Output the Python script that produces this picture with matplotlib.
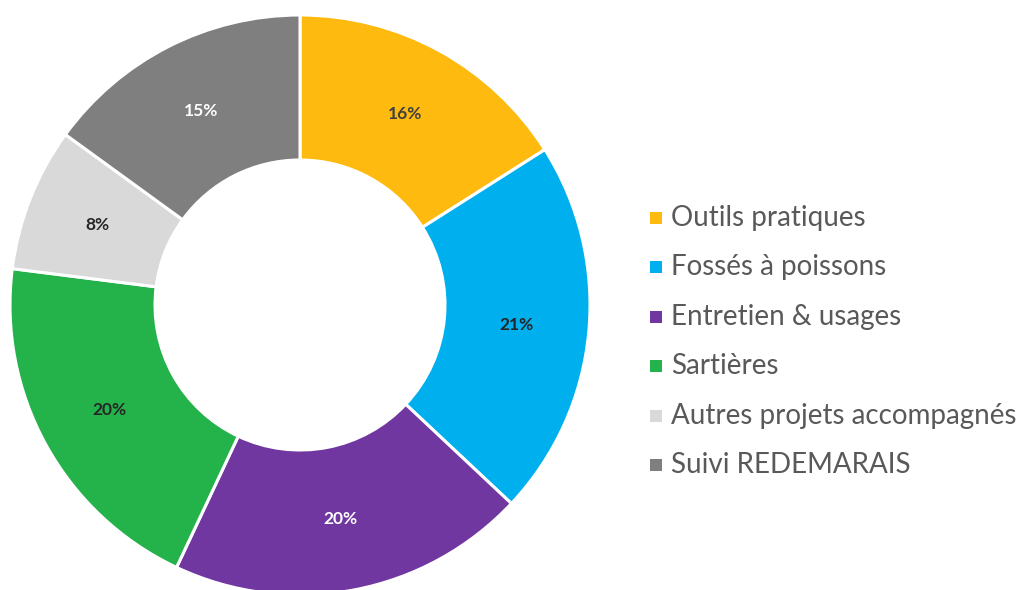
import matplotlib.pyplot as plt
from matplotlib.patches import Rectangle

labels = ['Outils pratiques', 'Fossés à poissons', 'Entretien & usages',
          'Sartières', 'Autres projets accompagnés', 'Suivi REDEMARAIS']
shares = [16, 21, 20, 20, 8, 15]
colors = ['#FFBA10', '#00B0EE', '#7137A0', '#24B24B', '#D9D9D9', '#7F7F7F']
label_colors = ['#404040', '#262626', 'white', '#262626', '#262626', 'white']

plt.rcParams['font.family'] = ['Lato', 'DejaVu Sans']

fig = plt.figure(figsize=(10.2, 5.9), dpi=100)
W, H = 1020, 590
# donut centre at (300, 305) px, outer radius 290 px
ax = fig.add_axes([10 / W, (H - 595) / H, 580 / W, 580 / H])

wedges, texts = ax.pie(shares, colors=colors, startangle=90, counterclock=False,
                       radius=1, wedgeprops=dict(width=0.5, edgecolor='white', linewidth=2.2),
                       labels=[f'{v}%' for v in shares], labeldistance=0.75)
for t, c in zip(texts, label_colors):
    t.set_color(c)
    t.set_fontsize(12.5)
    t.set_fontweight('bold')
    t.set_ha('center')
    t.set_va('center')

ax.set_xlim(-1, 1)
ax.set_ylim(-1, 1)
ax.set_aspect('equal')
ax.axis('off')

# legend drawn by hand to match row spacing
y0 = 218
step = 49.4
for i, (lab, col) in enumerate(zip(labels, colors)):
    yc = y0 + i * step
    fig.patches.append(Rectangle((650 / W, (H - yc - 6) / H), 12 / W, 12 / H,
                                 transform=fig.transFigure, facecolor=col, edgecolor='none'))
    fig.text(671 / W, (H - yc) / H, lab, fontsize=20, color='#595959',
             ha='left', va='center')

fig.savefig('out.png', dpi=100, facecolor='white')
